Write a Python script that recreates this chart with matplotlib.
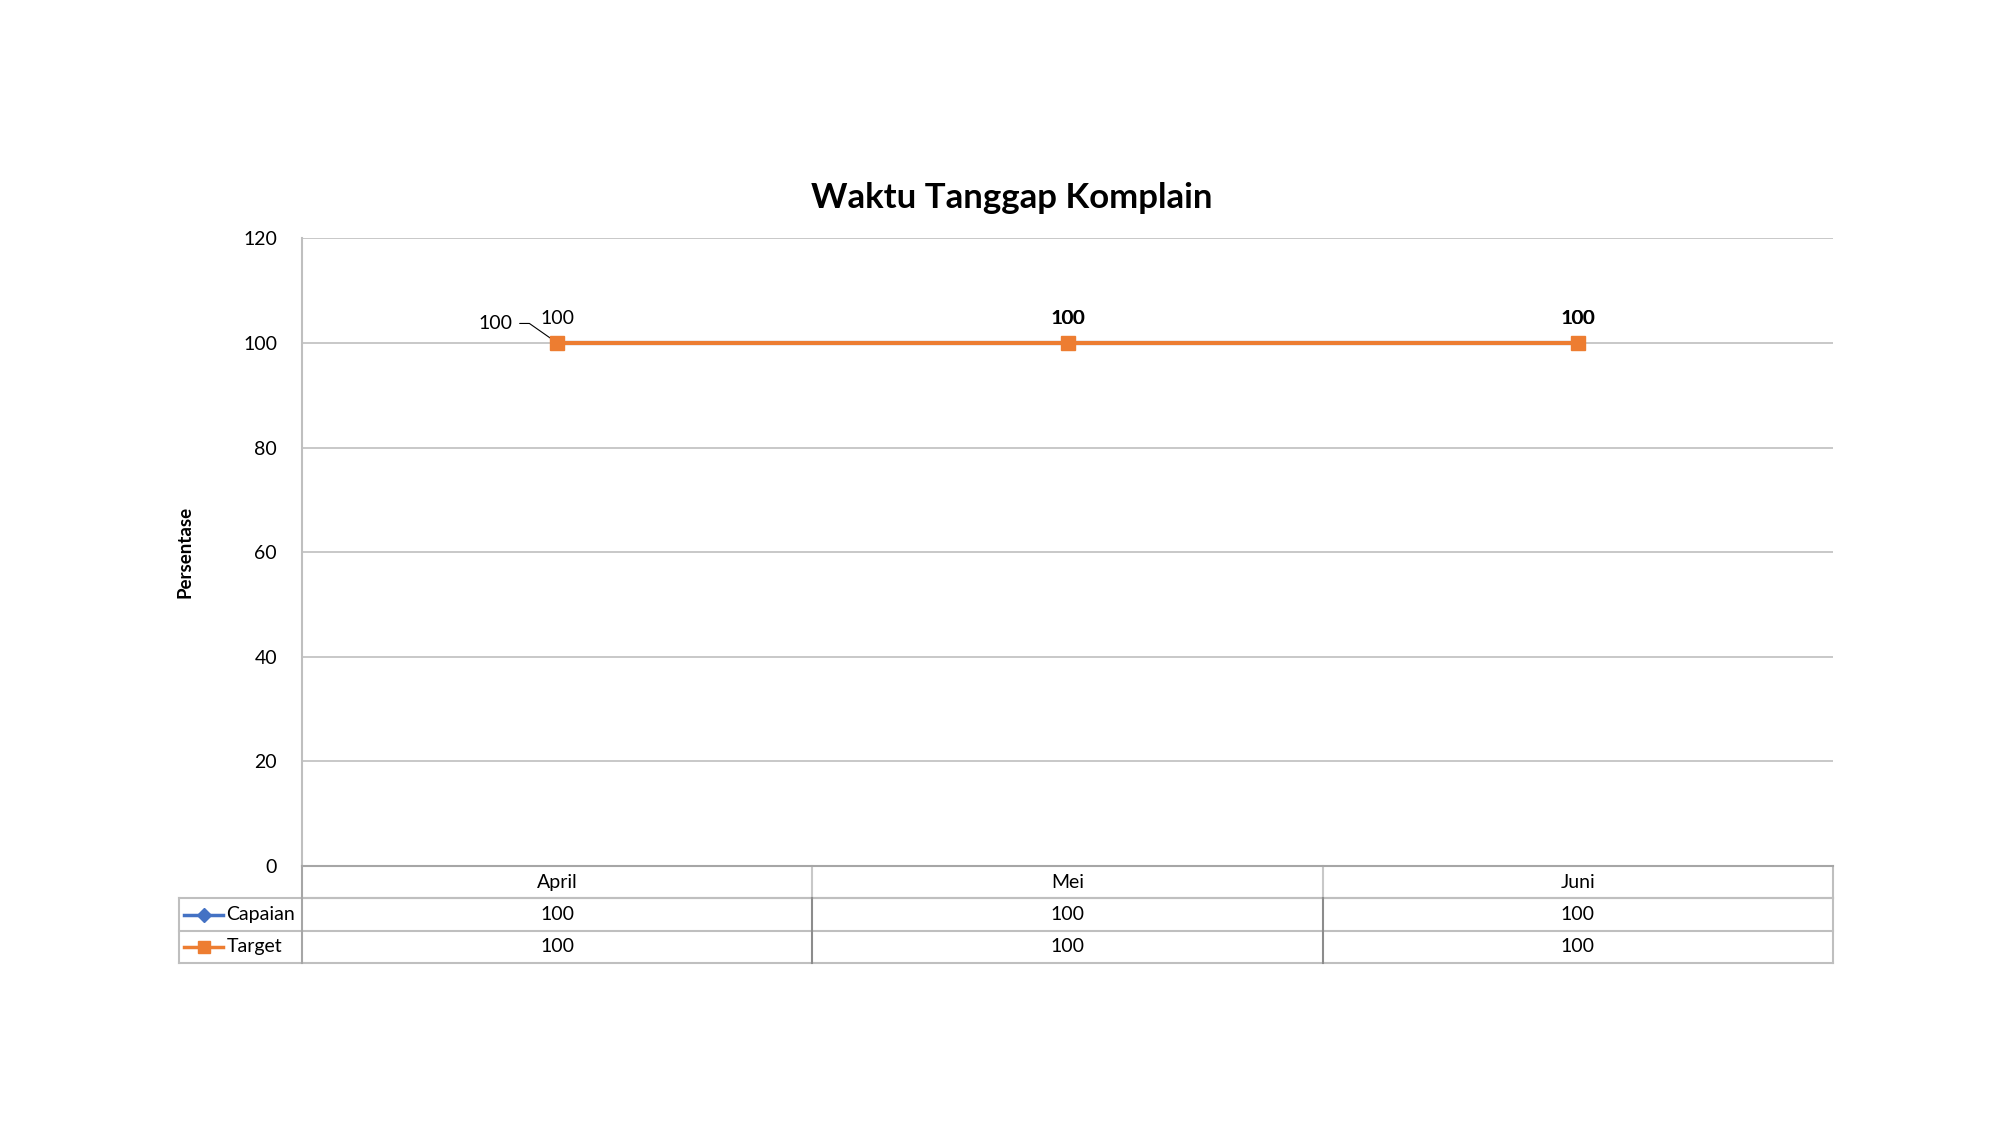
import matplotlib
matplotlib.use("Agg")
import matplotlib.pyplot as plt
from matplotlib.lines import Line2D

plt.rcParams['font.family'] = ['Lato', 'DejaVu Sans']

months = ["April", "Mei", "Juni"]
capaian = [100, 100, 100]
target = [100, 100, 100]
series_names = ["Capaian", "Target"]
yticks = [0, 20, 40, 60, 80, 100, 120]

blue = "#4472C4"
orange = "#ED7D31"
fs = 14

fig = plt.figure(figsize=(20, 11.25), dpi=100)
ax = fig.add_axes([0.151, 0.2302, 0.7655, 0.558])

x = list(range(len(months)))
ax.plot(x, capaian, color=blue, lw=3, marker="D", ms=7, zorder=3)
ax.plot(x, target, color=orange, lw=3, marker="s", ms=10, zorder=4)

ax.set_xlim(-0.5, len(months) - 0.5)
ax.set_ylim(0, 120)
ax.set_yticks(yticks)
ax.set_yticklabels([str(v) for v in yticks], fontsize=fs)
ax.tick_params(axis="y", length=0, pad=18)
ax.set_xticks([])
ax.grid(axis="y", color="#BFBFBF", lw=1.2)
ax.set_axisbelow(True)
for s in ["top", "right"]:
    ax.spines[s].set_visible(False)
ax.spines["left"].set_color("#BFBFBF")
ax.spines["left"].set_linewidth(1.5)
ax.spines["bottom"].set_color("#A6A6A6")
ax.spines["bottom"].set_linewidth(1.5)

ax.set_ylabel("Persentase", fontsize=13.5, fontweight="bold", labelpad=36)
fig.suptitle("Waktu Tanggap Komplain", x=0.506, y=0.824, va="center",
             fontsize=25, fontweight="bold")

# data labels: target above points, capaian shifted for first point
for i, v in enumerate(target):
    ax.annotate(str(v), (i, v), xytext=(0, 17.5), textcoords="offset points",
                ha="center", va="center", fontsize=fs, zorder=6)
for i, v in enumerate(capaian):
    if i == 0:
        ax.annotate(str(v), (i, v), xytext=(-32, 14), textcoords="offset points",
                    ha="right", va="center", fontsize=fs,
                    arrowprops=dict(arrowstyle="-", color="black", lw=0.8,
                                    connectionstyle="angle,angleA=0,angleB=145,rad=0",
                                    shrinkA=3, shrinkB=0))
    else:
        ax.annotate(str(v), (i, v), xytext=(0.4, 17.5), textcoords="offset points",
                    ha="center", va="center", fontsize=fs, zorder=6)

# data table below the axes
row_h = 0.0515
left_w = 0.0803
border = "#BFBFBF"
sep = "#8C8C8C"
tr = ax.get_xaxis_transform()
rows = [capaian, target]

def hline(x0, x1, y, c=border):
    ax.add_line(Line2D([x0, x1], [y, y], transform=ax.transAxes, color=c,
                       lw=1.5, clip_on=False))

def vline(xv, y0, y1, c=sep, trans=None):
    ax.add_line(Line2D([xv, xv], [y0, y1], transform=trans or ax.transAxes,
                       color=c, lw=1.5, clip_on=False))

hline(0, 1, -row_h)
hline(-left_w, 1, -row_h)
hline(-left_w, 1, -2 * row_h)
hline(-left_w, 1, -3 * row_h)
vline(0, 0, -3 * row_h, c="#A6A6A6")
vline(1, 0, -3 * row_h, c=border)
vline(-left_w, -row_h, -3 * row_h, c=border)
for b in range(1, len(months)):
    vline(b - 0.5, 0, -row_h, c="#C8C8C8", trans=tr)
    vline(b - 0.5, -row_h, -3 * row_h, c=sep, trans=tr)

for i, m in enumerate(months):
    ax.text(i, -0.5 * row_h, m, transform=tr, ha="center", va="center", fontsize=fs)
for r, vals in enumerate(rows):
    yc = -(r + 1.5) * row_h
    for i, v in enumerate(vals):
        ax.text(i, yc, str(v), transform=tr, ha="center", va="center", fontsize=fs)

for r, (name, col, mk, ms) in enumerate(zip(series_names, [blue, orange], ["D", "s"], [7, 9])):
    yc = -(r + 1.5) * row_h
    ax.add_line(Line2D([-left_w + 0.003, -left_w + 0.029], [yc, yc], transform=ax.transAxes,
                       color=col, lw=2.5, clip_on=False))
    ax.add_line(Line2D([-left_w + 0.016], [yc], transform=ax.transAxes, color=col,
                       marker=mk, ms=ms, lw=0, clip_on=False))
    ax.text(-left_w + 0.031, yc, name, transform=ax.transAxes, ha="left",
            va="center", fontsize=fs)

fig.savefig("out.png", dpi=100, facecolor="white")
